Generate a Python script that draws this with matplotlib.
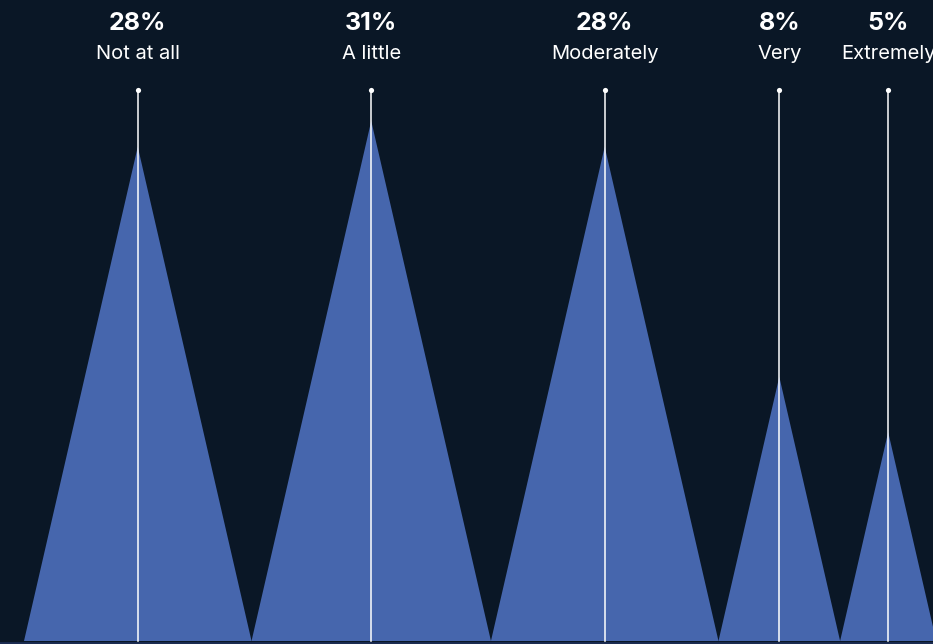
import matplotlib
matplotlib.use("Agg")
import matplotlib.pyplot as plt
import numpy as np
from matplotlib.patches import Polygon

# Survey shares per answer
categories = ["Not at all", "A little", "Moderately", "Very", "Extremely"]
shares = [28, 31, 28, 8, 5]

BG = "#0a1726"
FILL = "#4666ad"

# triangles are area-proportional: height and half-width both scale with sqrt(share)
HEIGHT_K = 93.4
HALF_K = 21.5
X0 = 24
BASE_Y = 641
STEM_TOP = 90


def main():
    fig = plt.figure(figsize=(9.33, 6.44), dpi=100, facecolor=BG)
    ax = fig.add_axes([0, 0, 1, 1])
    ax.set_facecolor(BG)
    ax.set_xlim(0, 933)
    ax.set_ylim(644, 0)
    ax.axis("off")

    left = X0
    for cat, v in zip(categories, shares):
        r = np.sqrt(v)
        half = HALF_K * r
        h = HEIGHT_K * r
        cx = left + half
        tri = Polygon([[left, BASE_Y], [cx, BASE_Y - h], [left + 2 * half, BASE_Y]],
                      closed=True, facecolor=FILL, edgecolor="none", zorder=2)
        ax.add_patch(tri)
        # stem with a dot on top
        ax.plot([cx, cx], [STEM_TOP, BASE_Y], color="white", lw=1.1, zorder=3)
        ax.scatter([cx], [STEM_TOP], s=14, color="white", zorder=4, linewidths=0)
        ax.text(cx, 23, f"{v}%", ha="center", va="center", color="white",
                fontsize=18, fontweight="bold", family="Inter")
        ax.text(cx, 54, cat, ha="center", va="center", color="white",
                fontsize=14.5, family="Inter")
        left += 2 * half

    ax.plot([0, 933], [642.5, 642.5], color="#1b2c52", lw=2, zorder=5)

    fig.savefig("out.png", dpi=100, facecolor=BG)


if __name__ == "__main__":
    main()
